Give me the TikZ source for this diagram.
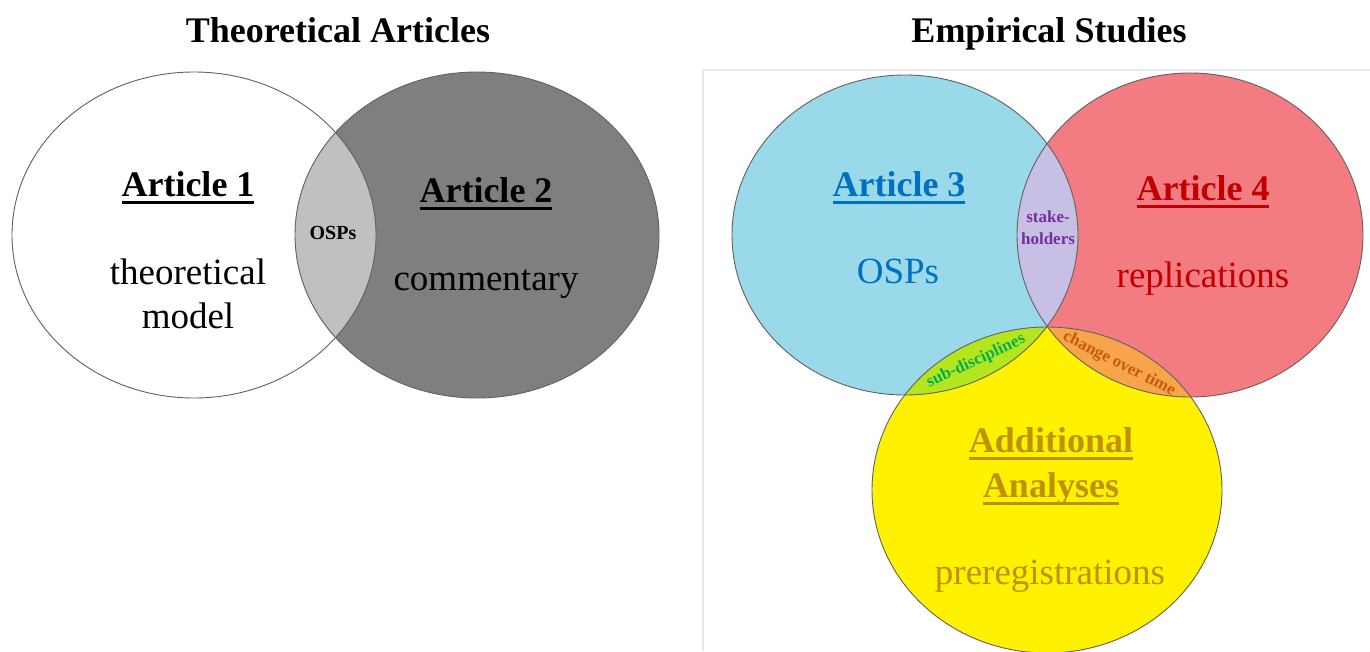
\documentclass[tikz,border=0pt]{standalone}
\usepackage{fontspec}
\setmainfont{Liberation Serif}

% fills
\definecolor{skyfill}{HTML}{99D9E9}
\definecolor{rosefill}{HTML}{F37B82}
\definecolor{sunfill}{HTML}{FFF200}
\definecolor{lilacfill}{HTML}{C8BFE4}
\definecolor{limefill}{HTML}{B5E61D}
\definecolor{apricotfill}{HTML}{F8A44A}
\definecolor{darkfill}{HTML}{7F7F7F}
\definecolor{paledfill}{HTML}{C0C0C0}
% text colours
\definecolor{inkblue}{HTML}{0070C0}
\definecolor{inkred}{HTML}{C00000}
\definecolor{inkgold}{HTML}{BF9000}
\definecolor{inkpurple}{HTML}{7030A0}
\definecolor{inkgreen}{HTML}{00B050}
\definecolor{inkorange}{HTML}{C55A11}

% thick underline in the current text colour
\newcommand\ruledtext[1]{\setbox0\hbox{#1}\leavevmode\rlap{\rule[-8pt]{\wd0}{2.8pt}}\box0}

\begin{document}
\begin{tikzpicture}[x=1pt,y=-1pt,
  outline/.style={draw=black!62, line width=0.9pt},
  heading/.style={font=\fontsize{36}{40}\selectfont\bfseries, anchor=base, inner sep=0pt},
  setname/.style={font=\fontsize{36}{40}\selectfont\bfseries, anchor=base, inner sep=0pt},
  settopic/.style={font=\fontsize{37}{42}\selectfont, anchor=base, inner sep=0pt},
  overlaptag/.style={font=\fontsize{17}{20}\selectfont\bfseries, inner sep=0pt}
]
\path[use as bounding box] (0,0) rectangle (1370,651);
\fill[white] (0,0) rectangle (1370,651);
\clip (0,0) rectangle (1370,651);

% ---------- theoretical articles ----------
\fill[white] (194,235) ellipse [x radius=182, y radius=163];
\fill[darkfill] (477,235) ellipse [x radius=182, y radius=163];
\begin{scope}
  \clip (194,235) ellipse [x radius=182, y radius=163];
  \fill[paledfill] (477,235) ellipse [x radius=182, y radius=163];
\end{scope}
\draw[outline] (194,235) ellipse [x radius=182, y radius=163];
\draw[outline] (477,235) ellipse [x radius=182, y radius=163];

% ---------- empirical studies ----------
\draw[black!9, line width=1.3pt] (703,651) -- (703,70) -- (1370,70);

\fill[skyfill] (905,235) ellipse [x radius=173, y radius=160];
\fill[rosefill] (1190,235) ellipse [x radius=173, y radius=162];
\fill[sunfill] (1047,490) ellipse [x radius=175, y radius=163];
\begin{scope}
  \clip (905,235) ellipse [x radius=173, y radius=160];
  \fill[lilacfill] (1190,235) ellipse [x radius=173, y radius=162];
  \fill[limefill] (1047,490) ellipse [x radius=175, y radius=163];
\end{scope}
\begin{scope}
  \clip (1190,235) ellipse [x radius=173, y radius=162];
  \fill[apricotfill] (1047,490) ellipse [x radius=175, y radius=163];
\end{scope}
\draw[outline] (905,235) ellipse [x radius=173, y radius=160];
\draw[outline] (1190,235) ellipse [x radius=173, y radius=162];
\draw[outline] (1047,490) ellipse [x radius=175, y radius=163];

% ---------- headings ----------
\node[heading] (theoryhead) at (338,42) {Theoretical Articles};
\node[heading] (empirichead) at (1049,42) {Empirical Studies};

% ---------- labels, left ----------
\node[setname] (art1) at (188,196) {\ruledtext{Article 1}};
\node[settopic] (theo) at (188,284) {theoretical};
\node[settopic] (model) at (188,328) {model};
\node[overlaptag, font=\fontsize{20}{24}\selectfont\bfseries] (ospsmall) at (333,233) {OSPs};
\node[setname] (art2) at (486,202) {\ruledtext{Article 2}};
\node[settopic] (comm) at (486,290) {commentary};

% ---------- labels, right ----------
\node[setname, text=inkblue] (art3) at (899,196) {\ruledtext{Article 3}};
\node[settopic, text=inkblue] (osps) at (898,283) {OSPs};
\node[setname, text=inkred] (art4) at (1203,200) {\ruledtext{Article 4}};
\node[settopic, text=inkred] (repl) at (1203,287) {replications};
\node[overlaptag, text=inkpurple, anchor=base] (stake) at (1048,222) {stake-};
\node[overlaptag, text=inkpurple, anchor=base] (holders) at (1048,244) {holders};
\node[overlaptag, text=inkgreen, rotate=25] (subdisc) at (976,361) {sub-disciplines};
\node[overlaptag, text=inkorange, rotate=-27] (change) at (1119,364) {change over time};
\node[setname, text=inkgold] (addl) at (1051,452) {\ruledtext{Additional}};
\node[setname, text=inkgold] (anal) at (1051,497) {\ruledtext{Analyses}};
\node[settopic, text=inkgold] (prereg) at (1050,584) {preregistrations};
\end{tikzpicture}
\end{document}
